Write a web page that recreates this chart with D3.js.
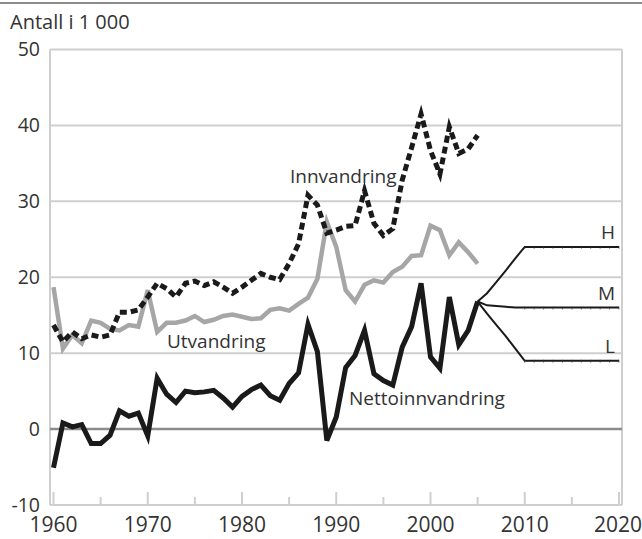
<!DOCTYPE html>
<html>
<head>
<meta charset="utf-8">
<script src="https://cdn.jsdelivr.net/npm/d3@7"></script>
<style>
  body { margin: 0; background: #fff; }
  text { font-family: "Open Sans", "Noto Sans", sans-serif; fill: #333; }
</style>
</head>
<body>
<div id="chart"></div>
<script>
// years 1960-2005, values in thousands
const years = d3.range(1960, 2006);
const innvandring = [13.7, 11.5, 12.8, 11.9, 12.4, 12.1, 12.4, 15.4, 15.4, 15.7,
  17.4, 19.2, 18.5, 17.4, 19.2, 19.5, 18.9, 19.4, 18.7, 17.9,
  18.7, 19.6, 20.5, 20.0, 19.7, 21.8, 24.4, 30.8, 29.5, 25.8,
  26.2, 26.7, 26.8, 31.4, 27.1, 25.5, 26.4, 32.8, 37.1, 41.5,
  36.7, 33.6, 39.8, 36.3, 36.9, 38.7];
const utvandring = [18.7, 10.6, 12.4, 11.3, 14.3, 14.0, 13.2, 13.0, 13.7, 13.5,
  18.3, 12.8, 14.0, 14.0, 14.3, 14.9, 14.1, 14.4, 14.9, 15.1,
  14.8, 14.5, 14.6, 15.7, 15.9, 15.6, 16.5, 17.3, 19.8, 27.3,
  24.0, 18.3, 16.8, 19.0, 19.6, 19.3, 20.7, 21.4, 22.8, 22.9,
  26.8, 26.2, 22.9, 24.6, 23.3, 21.8];
const netto = [-5.1, 0.8, 0.3, 0.6, -1.9, -1.9, -0.8, 2.4, 1.7, 2.1,
  -0.9, 6.7, 4.6, 3.5, 5.0, 4.8, 4.9, 5.1, 4.1, 2.9,
  4.3, 5.2, 5.8, 4.4, 3.8, 6.0, 7.4, 13.8, 10.2, -1.5,
  1.6, 8.1, 9.7, 13.0, 7.3, 6.4, 5.8, 10.8, 13.5, 19.2,
  9.5, 8.0, 17.4, 11.1, 13.0, 16.8];

// projections 2005-2020
const projYears = d3.range(2005, 2021);
const projH = [16.8, 17.9, 19.4, 20.9, 22.5, 24.0, 24.0, 24.0, 24.0, 24.0, 24.0, 24.0, 24.0, 24.0, 24.0, 24.0];
const projM = [16.8, 16.3, 16.2, 16.1, 16.0, 16.0, 16.0, 16.0, 16.0, 16.0, 16.0, 16.0, 16.0, 16.0, 16.0, 16.0];
const projL = [16.8, 15.2, 13.7, 12.2, 10.6, 9.0, 9.0, 9.0, 9.0, 9.0, 9.0, 9.0, 9.0, 9.0, 9.0, 9.0];
const projNames = ["H", "M", "L"];

const yTicks = [-10, 0, 10, 20, 30, 40, 50];
const xTicks = [1960, 1970, 1980, 1990, 2000, 2010, 2020];

const width = 642, height = 539;

const svg = d3.select("#chart").append("svg")
  .attr("width", width).attr("height", height);

const x = d3.scaleLinear().domain([1960, 2020]).range([53.5, 619]);
const y = d3.scaleLinear().domain([-10, 50]).range([505, 49.5]);
const left = 50, right = 622;

// top rule
svg.append("line").attr("x1", 0).attr("x2", width).attr("y1", 3).attr("y2", 3)
  .attr("stroke", "#8c8c8c").attr("stroke-width", 2);

svg.append("text").attr("x", 10).attr("y", 29).attr("font-size", 20).text("Antall i 1 000");

// grid
svg.selectAll(".grid").data(yTicks.filter(d => d != 0)).enter().append("line")
  .attr("x1", left).attr("x2", right)
  .attr("y1", d => y(d)).attr("y2", d => y(d))
  .attr("stroke", "#cfcfcf").attr("stroke-width", 2);

svg.append("line").attr("x1", left).attr("x2", left).attr("y1", y(50)).attr("y2", y(-10))
  .attr("stroke", "#cfcfcf").attr("stroke-width", 2);
svg.append("line").attr("x1", right).attr("x2", right).attr("y1", y(50)).attr("y2", y(-10))
  .attr("stroke", "#cfcfcf").attr("stroke-width", 2);

// x ticks (decades long, half-decades short)
const tickYears = d3.range(1960, 2021, 5);
svg.selectAll(".xt").data(tickYears).enter().append("line")
  .attr("x1", d => x(d)).attr("x2", d => x(d))
  .attr("y1", d => d % 10 == 0 ? y(-10) - 13 : y(-10) - 8).attr("y2", y(-10))
  .attr("stroke", "#cfcfcf").attr("stroke-width", 2);

svg.append("line").attr("x1", left).attr("x2", right).attr("y1", y(0)).attr("y2", y(0))
  .attr("stroke", "#8c8c8c").attr("stroke-width", 2.5);

svg.selectAll(".yl").data(yTicks).enter().append("text")
  .attr("x", 40).attr("y", d => y(d)).attr("dy", "0.35em")
  .attr("text-anchor", "end").attr("font-size", 19.5)
  .text(d => d);

svg.selectAll(".xl").data(xTicks).enter().append("text")
  .attr("x", d => Math.min(x(d), 618)).attr("y", 532)
  .attr("text-anchor", "middle").attr("font-size", 21)
  .text(d => d);

const line = d3.line().x(d => x(d[0])).y(d => y(d[1]));

svg.append("path").datum(years.map((yr, i) => [yr, utvandring[i]]))
  .attr("d", line).attr("fill", "none").attr("stroke", "#a6a6a6").attr("stroke-width", 4.5);

svg.append("path").datum(years.map((yr, i) => [yr, innvandring[i]]))
  .attr("d", line).attr("fill", "none").attr("stroke", "#1a1a1a").attr("stroke-width", 5)
  .attr("stroke-dasharray", "7,4");

svg.append("path").datum(years.map((yr, i) => [yr, netto[i]]))
  .attr("d", line).attr("fill", "none").attr("stroke", "#1a1a1a").attr("stroke-width", 5);

// projection lines
[projH, projM, projL].forEach(function(vals, k) {
  svg.append("path").datum(projYears.map((yr, i) => [yr, vals[i]]))
    .attr("d", line).attr("fill", "none").attr("stroke", "#1a1a1a").attr("stroke-width", 2);
  svg.selectAll(".pm" + k).data(projYears.filter(yr => yr >= 2010)).enter().append("line")
    .attr("x1", yr => x(yr)).attr("x2", yr => x(yr))
    .attr("y1", yr => y(vals[yr - 2005]) - 1).attr("y2", yr => y(vals[yr - 2005]) + 2)
    .attr("stroke", "#333").attr("stroke-width", 0.6);
  svg.append("text").attr("x", 615).attr("y", y(vals[vals.length - 1]) - 8)
    .attr("text-anchor", "end").attr("font-size", 19).text(projNames[k]);
});

svg.append("text").attr("x", 290).attr("y", 183).attr("font-size", 19).text("Innvandring");
svg.append("text").attr("x", 167).attr("y", 348).attr("font-size", 19).text("Utvandring");
svg.append("text").attr("x", 349).attr("y", 405).attr("font-size", 19).text("Nettoinnvandring");
</script>
</body>
</html>
